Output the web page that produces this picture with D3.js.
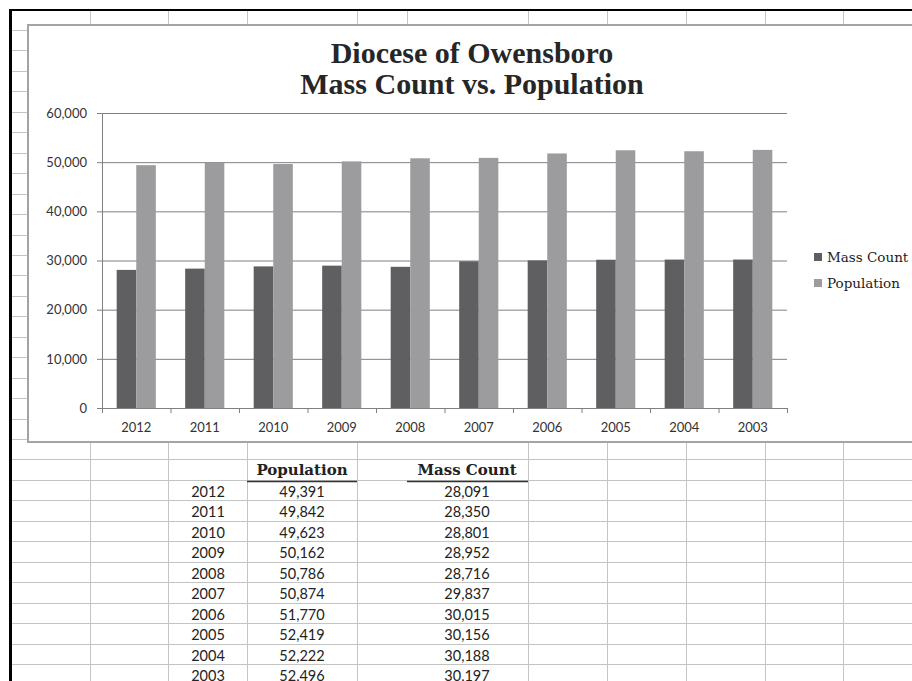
<!DOCTYPE html>
<html>
<head>
<meta charset="utf-8">
<script src="https://cdn.jsdelivr.net/npm/d3@7"></script>
<style>
    body { margin: 0; background: #fff; }
    svg { display: block; }
</style>
</head>
<body>
<div id="chart"></div>
<script>
    // data
    const years = ["2012", "2011", "2010", "2009", "2008", "2007", "2006", "2005", "2004", "2003"];
    const population = [49391, 49842, 49623, 50162, 50786, 50874, 51770, 52419, 52222, 52496];
    const massCount = [28091, 28350, 28801, 28952, 28716, 29837, 30015, 30156, 30188, 30197];
    const seriesNames = ["Mass Count", "Population"];
    const seriesColors = ["#5f5f62", "#9c9c9e"];
    const yTicks = [0, 10000, 20000, 30000, 40000, 50000, 60000];
    const titleLines = ["Diocese of Owensboro", "Mass Count vs. Population"];

    const W = 912, H = 681;
    const svg = d3.select("#chart").append("svg")
        .attr("width", W).attr("height", H);

    svg.append("rect").attr("width", W).attr("height", H).attr("fill", "#fff");

    // spreadsheet grid behind the chart
    const colX = [90, 168, 247, 357, 407, 528, 607, 686, 765, 843];
    const grid = svg.append("g").attr("stroke", "#c4c4c4").attr("stroke-width", 1);
    d3.range(0, 33).forEach(k => {
        const yy = Math.round(30 + 20.45 * k) + 0.5;
        grid.append("line").attr("x1", 11).attr("x2", W).attr("y1", yy).attr("y2", yy);
    });
    colX.forEach(cx => {
        grid.append("line").attr("x1", cx + 0.5).attr("x2", cx + 0.5).attr("y1", 11).attr("y2", 28);
        if (cx !== 407)
            grid.append("line").attr("x1", cx + 0.5).attr("x2", cx + 0.5).attr("y1", 440).attr("y2", H);
    });

    // black sheet frame
    svg.append("rect").attr("x", 9).attr("y", 9).attr("width", W).attr("height", 2).attr("fill", "#000");
    svg.append("rect").attr("x", 9).attr("y", 9).attr("width", 3).attr("height", H).attr("fill", "#000");

    // chart object
    svg.append("rect")
        .attr("x", 28).attr("y", 25).attr("width", 920).attr("height", 417)
        .attr("fill", "#fff").attr("stroke", "#a4a4a4").attr("stroke-width", 2);

    const plotL = 102, plotR = 787, plotT = 113, plotB = 408;

    const x = d3.scaleBand().domain(years).range([plotL, plotR]).paddingInner(0).paddingOuter(0);
    const xs = d3.scaleBand().domain(seriesNames).range([0, x.bandwidth()]).paddingInner(0).paddingOuter(0.75);
    const y = d3.scaleLinear().domain([0, 60000]).range([plotB, plotT]);

    // gridlines
    svg.append("g")
        .attr("transform", `translate(${plotL},0)`)
        .call(d3.axisLeft(y).tickValues(yTicks.slice(1)).tickSize(-(plotR - plotL)).tickFormat(""))
        .call(g => g.select(".domain").remove())
        .call(g => g.selectAll("line").attr("stroke", "#808080"));

    // bars
    const rows = years.map((yr, i) => ({ year: yr, values: [massCount[i], population[i]] }));
    svg.append("g").selectAll("g")
        .data(rows)
        .enter().append("g")
        .attr("transform", d => `translate(${x(d.year)},0)`)
        .selectAll("rect")
        .data(d => d.values.map((v, j) => ({ key: seriesNames[j], value: v, j: j })))
        .enter().append("rect")
        .attr("x", d => xs(d.key))
        .attr("y", d => y(d.value))
        .attr("width", xs.bandwidth())
        .attr("height", d => plotB - y(d.value))
        .attr("fill", d => seriesColors[d.j]);

    // y axis
    svg.append("g")
        .attr("transform", `translate(${plotL},0)`)
        .call(d3.axisLeft(y).tickValues(yTicks).tickSize(5).tickPadding(10).tickFormat(d3.format(",")))
        .call(g => g.select(".domain").attr("stroke", "#808080"))
        .call(g => g.selectAll("line").attr("stroke", "#808080"))
        .call(g => g.selectAll("text")
            .attr("font-family", "Lato, 'Open Sans', sans-serif")
            .attr("font-size", 13).attr("fill", "#333"));

    // x axis: labels centred, ticks between categories
    svg.append("g")
        .attr("transform", `translate(0,${plotB})`)
        .call(d3.axisBottom(x).tickSize(0).tickPadding(15))
        .call(g => g.select(".domain").attr("stroke", "#808080"))
        .call(g => g.selectAll("text")
            .attr("font-family", "Lato, 'Open Sans', sans-serif")
            .attr("font-size", 13).attr("fill", "#333"));
    svg.append("g").selectAll("line")
        .data(years.concat(["end"]))
        .enter().append("line")
        .attr("x1", (d, i) => plotL + x.step() * i + 0.5)
        .attr("x2", (d, i) => plotL + x.step() * i + 0.5)
        .attr("y1", plotB).attr("y2", plotB + 5)
        .attr("stroke", "#808080");

    // title, two lines
    svg.append("g").selectAll("text")
        .data(titleLines).enter().append("text")
        .attr("x", 472).attr("y", (d, i) => 63 + i * 31)
        .attr("text-anchor", "middle")
        .attr("font-family", "'Liberation Serif', serif").attr("font-weight", "bold")
        .attr("font-size", 30).attr("fill", "#262626")
        .text(d => d);

    // legend
    const legend = svg.append("g").selectAll("g")
        .data(seriesNames).enter().append("g")
        .attr("transform", (d, i) => `translate(814,${253 + i * 26})`);
    legend.append("rect").attr("width", 8).attr("height", 8)
        .attr("fill", (d, i) => seriesColors[i]);
    legend.append("text").attr("x", 13).attr("y", 8.5)
        .attr("font-family", "'DejaVu Serif', serif").attr("font-size", 13.5)
        .attr("fill", "#222").text(d => d);

    // data table under the chart
    const table = svg.append("g").attr("fill", "#222");
    const headY = 475;
    [["Population", 302, 247, 357], ["Mass Count", 467, 407, 528]].forEach(h => {
        table.append("text").attr("x", h[1]).attr("y", headY).attr("text-anchor", "middle")
            .attr("font-family", "'DejaVu Serif', serif").attr("font-weight", "bold")
            .attr("font-size", 15).text(h[0]);
        table.append("line").attr("x1", h[2]).attr("x2", h[3]).attr("y1", 481.5).attr("y2", 481.5)
            .attr("stroke", "#333").attr("stroke-width", 1.5);
    });
    const fmt = d3.format(",");
    years.forEach((yr, i) => {
        const by = 497 + 20.45 * i;
        [[yr, 208], [fmt(population[i]), 302], [fmt(massCount[i]), 467]].forEach(c => {
            table.append("text").attr("x", c[1]).attr("y", by).attr("text-anchor", "middle")
                .attr("font-family", "Lato, 'Open Sans', sans-serif").attr("font-size", 14.5)
                .text(c[0]);
        });
    });
</script>
</body>
</html>
